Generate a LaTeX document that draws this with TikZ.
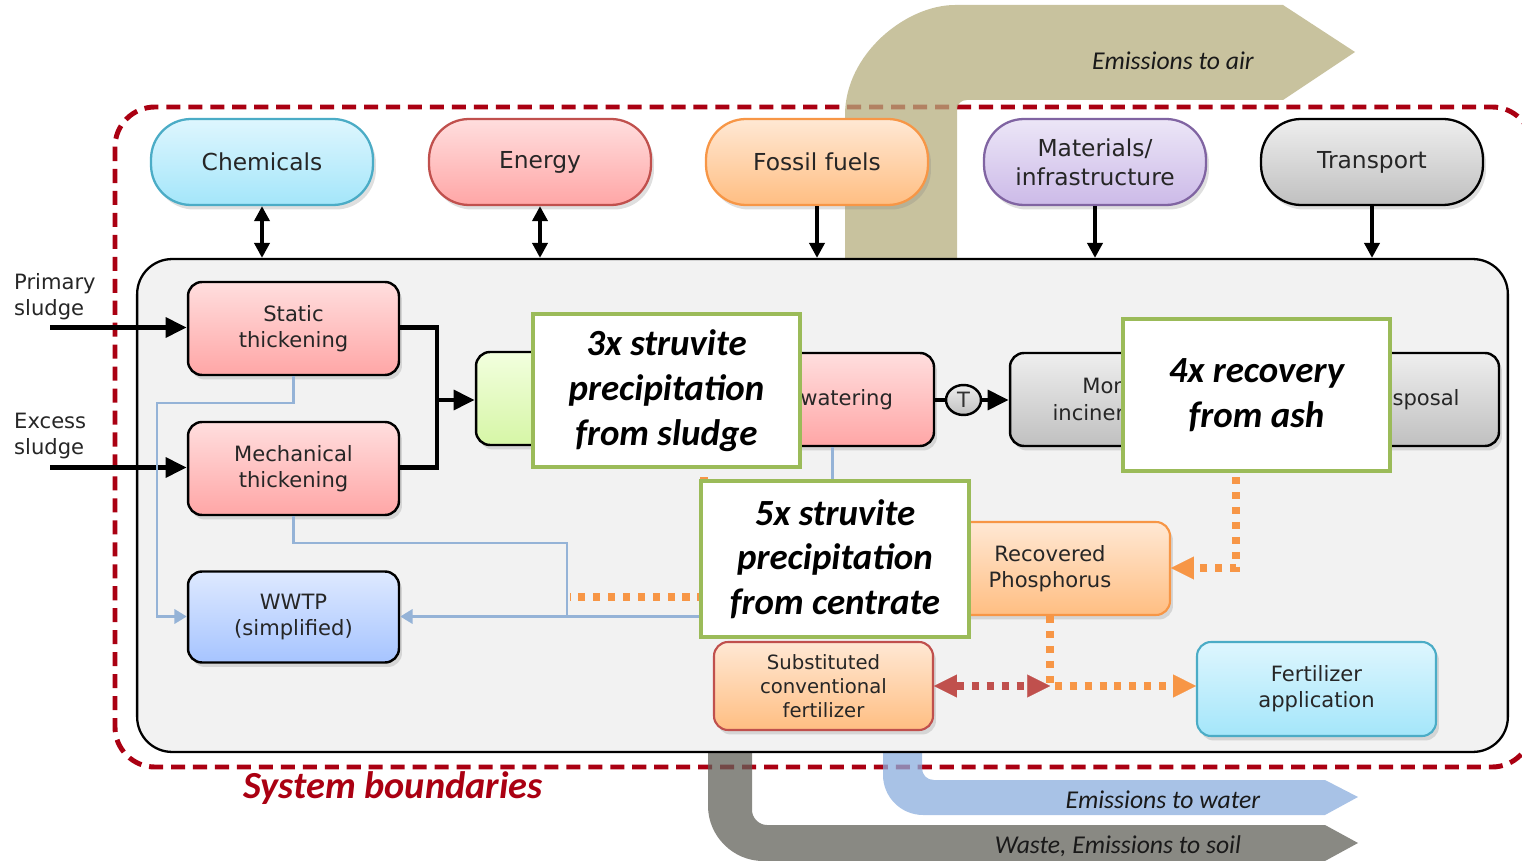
\documentclass[tikz,border=0pt]{standalone}
\usepackage{fontspec}
\setmainfont{DejaVu Sans}
\newfontfamily\calfont{Carlito}
\usetikzlibrary{shapes.geometric, positioning, arrows.meta, shadows}

\definecolor{bndred}{RGB}{170,0,18}
\definecolor{airband}{RGB}{182,173,126}
\definecolor{waterband}{RGB}{139,174,222}
\definecolor{wasteband}{RGB}{98,97,90}
\definecolor{sysgray}{RGB}{242,242,242}
\definecolor{pipeblue}{RGB}{149,179,215}
\definecolor{recorange}{RGB}{247,150,70}
\definecolor{substred}{RGB}{192,80,77}
\definecolor{calgreen}{RGB}{155,187,89}
\definecolor{cyanedge}{RGB}{75,172,198}
\definecolor{purpedge}{RGB}{128,100,162}
\definecolor{cyantop}{RGB}{222,246,254}
\definecolor{cyanbot}{RGB}{164,230,250}
\definecolor{pinktop}{RGB}{255,222,222}
\definecolor{pinkbot}{RGB}{255,166,166}
\definecolor{orangetop}{RGB}{255,232,212}
\definecolor{orangebot}{RGB}{255,190,130}
\definecolor{purptop}{RGB}{236,230,247}
\definecolor{purpbot}{RGB}{204,186,232}
\definecolor{graytop}{RGB}{238,238,238}
\definecolor{graybot}{RGB}{192,192,192}
\definecolor{greentop}{RGB}{242,255,222}
\definecolor{greenbot}{RGB}{214,246,166}
\definecolor{bluetop}{RGB}{222,233,255}
\definecolor{bluebot}{RGB}{166,196,255}

\begin{document}
\begin{tikzpicture}[x=0.02cm, y=-0.02cm,
    shade/.style={drop shadow={opacity=0.25, shadow xshift=0.6mm, shadow yshift=-0.9mm}},
    pill/.style={rectangle, rounded corners=0.8cm, line width=1.3pt, shade,
        minimum width=4.44cm, minimum height=1.72cm, align=center,
        font=\fontsize{13.3}{16.5}\selectfont, text=black!85},
    proc/.style={rectangle, rounded corners=0.28cm, draw=black, line width=1.4pt, shade,
        minimum width=4.22cm, minimum height=1.86cm, align=center,
        font=\fontsize{12}{15}\selectfont, text=black!85},
    callout/.style={rectangle, draw=calgreen, line width=2.6pt, fill=white,
        minimum width=5.34cm, minimum height=3.06cm, align=center,
        font=\calfont\bfseries\itshape\fontsize{21}{25.5}\selectfont},
    cyanfill/.style={top color=cyantop, bottom color=cyanbot},
    pinkfill/.style={top color=pinktop, bottom color=pinkbot},
    orangefill/.style={top color=orangetop, bottom color=orangebot},
    purpfill/.style={top color=purptop, bottom color=purpbot},
    grayfill/.style={top color=graytop, bottom color=graybot},
    greenfill/.style={top color=greentop, bottom color=greenbot},
    bluefill/.style={top color=bluetop, bottom color=bluebot},
    thickline/.style={line width=2.8pt},
    flow/.style={line width=2.8pt, -{Triangle[length=12pt, width=11pt]}},
    inarrow/.style={line width=2.2pt, -{Triangle[length=8.5pt, width=8.5pt]}},
    duoarrow/.style={line width=2.2pt, {Triangle[length=8.5pt, width=8.5pt]}-{Triangle[length=8.5pt, width=8.5pt]}},
    recirc/.style={draw=pipeblue, line width=1.7pt},
    recov/.style={draw=recorange, line width=4pt, dash pattern=on 4pt off 4.5pt},
    subst/.style={draw=substred, line width=4pt, dash pattern=on 4pt off 4.5pt},
    bigtip/.style={arrows={-{Triangle[length=13pt, width=13pt, line width=0.1pt]}}},
    band/.style={fill opacity=0.75},
    bandlbl/.style={font=\calfont\itshape\fontsize{14.6}{16}\selectfont, text=black!90},
    lbl/.style={font=\fontsize{12}{15}\selectfont, align=left, anchor=west, text=black!85}
]
\useasboundingbox (0,0) rectangle (1522,861);

% --- System boundaries ---
\draw[bndred, line width=2.8pt, dash pattern=on 8pt off 4.5pt, rounded corners=0.8cm]
    (115,107) rectangle (1532,767);

% --- Emission bands ---
\fill[airband, band] (845,258) -- (845,115) .. controls (845,54) and (906,5) .. (955,5)
    -- (1283,5) -- (1355,52) -- (1283,100) -- (967,100)
    .. controls (961,100) and (957,104) .. (957,110) -- (957,258) -- cycle;
\fill[waterband, band] (883,752) -- (883,775) .. controls (883,797) and (901,815) .. (923,815)
    -- (1325,815) -- (1358,797) -- (1325,780) -- (934,780)
    .. controls (927,780) and (922,775) .. (922,768) -- (922,752) -- cycle;
\fill[wasteband, band] (708,752) -- (708,806) .. controls (708,836) and (733,861) .. (763,861)
    -- (1325,861) -- (1358,843) -- (1325,825) -- (767,825)
    .. controls (759,825) and (752,818) .. (752,810) -- (752,752) -- cycle;
\node[bandlbl] (airlbl) at (1173,61) {Emissions to air};
\node[bandlbl] (waterlbl) at (1163,800) {Emissions to water};
\node[bandlbl] (wastelbl) at (1118,846) {Waste, Emissions to soil};

% --- System box ---
\node[rectangle, rounded corners=0.7cm, draw=black, line width=1.3pt, fill=sysgray,
    minimum width=27.42cm, minimum height=9.86cm] (sys) at (822.5,505.5) {};

% --- Inputs ---
\node[pill, cyanfill, draw=cyanedge] (chem) at (262,162) {Chemicals};
\node[pill, pinkfill, draw=substred] (energy) at (540,162) {Energy};
\node[pill, orangefill, draw=recorange] (fossil) at (817,162) {Fossil fuels};
\node[pill, purpfill, draw=purpedge] (mater) at (1095,162) {Materials/\\infrastructure};
\node[pill, grayfill, draw=black] (transp) at (1372,162) {Transport};

\draw[duoarrow] (chem.south) -- (chem.south |- sys.north);
\draw[duoarrow] (energy.south) -- (energy.south |- sys.north);
\draw[inarrow] (fossil.south) -- (fossil.south |- sys.north);
\draw[inarrow] (mater.south) -- (mater.south |- sys.north);
\draw[inarrow] (transp.south) -- (transp.south |- sys.north);

% --- Sludge line ---
\node[lbl] (primlbl) at (8,297) {Primary\\sludge};
\node[lbl] (excesslbl) at (8,436) {Excess\\sludge};
\coordinate (primin) at (50,327.5);
\coordinate (excessin) at (50,467.5);

\node[proc, pinkfill] (static) at (293.5,328.5) {Static\\thickening};
\node[proc, pinkfill] (mech) at (293.5,468.5) {Mechanical\\thickening};
\node[proc, bluefill, minimum height=1.82cm] (wwtp) at (293.5,617) {WWTP\\(simplified)};
\node[proc, greenfill, minimum width=4.28cm] (digest) at (583,398.5) {};
\node[proc, pinkfill, minimum width=4.08cm] (dewater) at (832,399.5) {Dewatering};
\node[ellipse, draw=black, line width=1.4pt, grayfill, minimum width=0.7cm, minimum height=0.6cm,
    inner sep=0pt, font=\fontsize{12}{14}\selectfont, text=black!80] (tee) at (963.5,400) {T};
\node[proc, grayfill, minimum width=4.2cm] (mono) at (1115,399.5) {Mono-\\incineration};
\node[proc, grayfill, minimum width=3.36cm] (disposal) at (1415,399.5) {Disposal};

\coordinate (join) at (437,400);
\draw[flow] (primin) -- (primin -| static.west);
\draw[flow] (excessin) -- (excessin -| mech.west);
\draw[thickline] (static.east |- primin) -| (join);
\draw[thickline] (mech.east |- excessin) -| (join);
\draw[flow] (join) -- (digest.west |- join);
\draw[thickline] (dewater.east |- tee) -- (tee);
\draw[flow] (tee) -- (mono.west |- tee);

% --- Products ---
\node[proc, orangefill, draw=recorange, line width=1.2pt, minimum width=4.8cm] (recp) at (1050,568.5) {Recovered\\Phosphorus};
\node[proc, orangefill, draw=substred, line width=1.2pt, minimum width=4.38cm, minimum height=1.76cm,
    font=\fontsize{11.2}{13.6}\selectfont] (subfert) at (823.5,686) {Substituted\\conventional\\fertilizer};
\node[proc, cyanfill, draw=cyanedge, line width=1.2pt, minimum width=4.78cm, minimum height=1.88cm] (fertapp) at (1316.5,689) {Fertilizer\\application};

% --- Reject water ---
\coordinate (bl1) at (157,403);
\coordinate (bl2) at (567,543);
\coordinate (bl3) at (567,616.5);
\draw[recirc, -{Triangle[length=7pt, width=8pt]}] (static.south) |- (bl1) |- (wwtp.west |- bl3);
\draw[recirc] (mech.south) |- (bl2) -- (bl3);
\draw[recirc, -{Triangle[length=7pt, width=8pt]}] (dewater.south) |- (wwtp.east |- bl3);

% --- Phosphorus flows ---
\coordinate (or1) at (704,597);
\coordinate (or2) at (570,597);
\coordinate (or3) at (1236,568);
\coordinate (or4) at (1050,686);
\draw[recov] (or1 |- dewater.south) -- (or1) -- (or2);
\draw[recov, bigtip] (or3 |- mono.south) -- (or3) -- (recp.east |- or3);
\draw[recov, bigtip] (recp.south) -- (or4) -- (fertapp.west |- or4);
\draw[subst, arrows={{Triangle[length=13pt, width=13pt, line width=0.1pt]}-{Triangle[length=13pt, width=13pt, line width=0.1pt]}}]
    (subfert.east) -- (or4);

% --- Scenarios ---
\node[callout] (sludge) at (666.5,390.5) {3x struvite\\precipitation\\from sludge};
\node[callout, minimum width=5.36cm, minimum height=3.12cm] (centrate) at (835,559) {5x struvite\\precipitation\\from centrate};
\node[callout, minimum height=3.04cm] (ash) at (1256.5,395) {4x recovery\\from ash};

\node[font=\calfont\bfseries\itshape\fontsize{21.8}{24}\selectfont, text=bndred] (bndlbl) at (393,788) {System boundaries};

\end{tikzpicture}
\end{document}
